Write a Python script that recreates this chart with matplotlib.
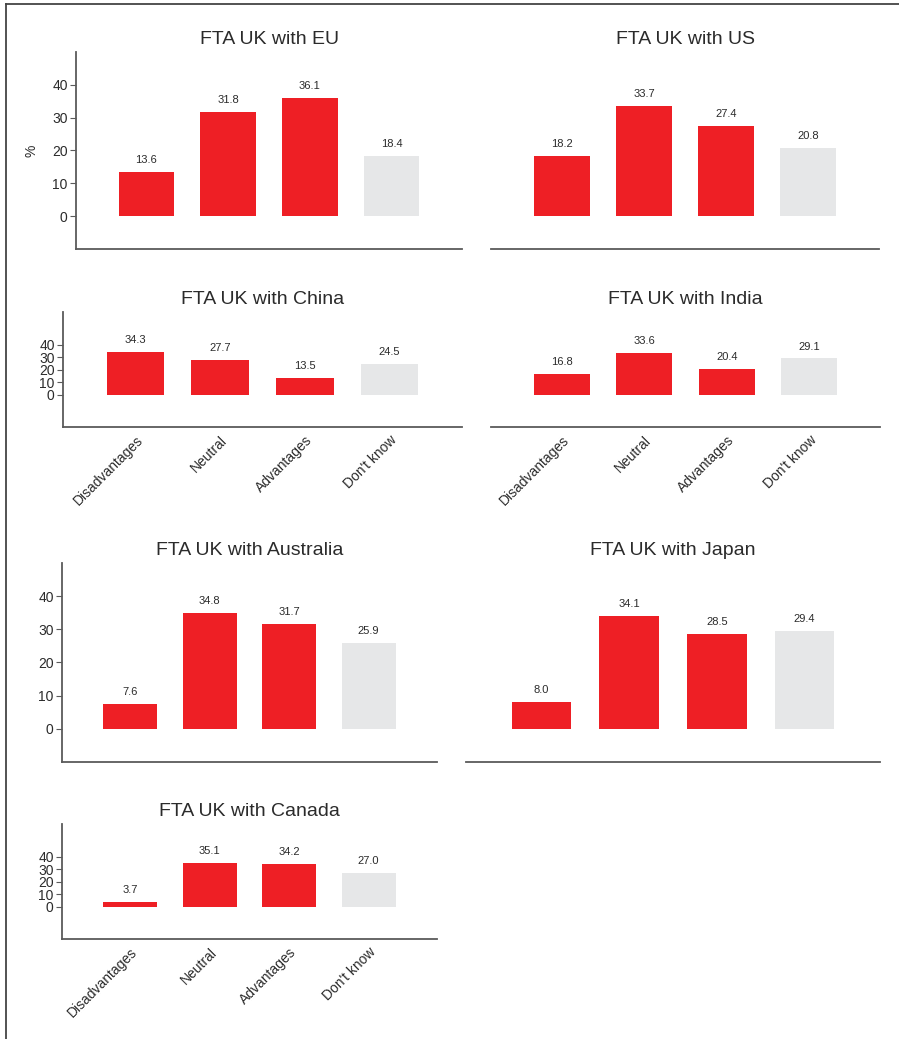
import matplotlib.pyplot as plt
from matplotlib.lines import Line2D

plt.rcParams['font.family'] = ['Liberation Sans', 'DejaVu Sans']

# Data
categories = ['Disadvantages', 'Neutral', 'Advantages', "Don't know"]
titles = ['FTA UK with EU', 'FTA UK with US', 'FTA UK with China', 'FTA UK with India',
          'FTA UK with Australia', 'FTA UK with Japan', 'FTA UK with Canada']
eu_vals = [13.6, 31.8, 36.1, 18.4]
us_vals = [18.2, 33.7, 27.4, 20.8]
china_vals = [34.3, 27.7, 13.5, 24.5]
india_vals = [16.8, 33.6, 20.4, 29.1]
australia_vals = [7.6, 34.8, 31.7, 25.9]
japan_vals = [8.0, 34.1, 28.5, 29.4]
canada_vals = [3.7, 35.1, 34.2, 27.0]
all_vals = [eu_vals, us_vals, china_vals, india_vals, australia_vals, japan_vals, canada_vals]

RED = '#ee1f25'
GREY = '#e6e7e8'
SPINE = '#5a5a5a'
TXT = '#2b2b2b'

W, H = 899, 1039
fig = plt.figure(figsize=(W / 100, H / 100), dpi=100)

# pixel boxes: left, right, top, bottom ; tall? ; left spine? ; x labels?
boxes = [
    (76, 462, 52, 249, True, True, False),
    (491, 879, 52, 249, True, False, False),
    (63, 462, 312, 427, False, True, True),
    (491, 880, 312, 427, False, False, True),
    (62, 437, 563, 762, True, True, False),
    (466, 880, 563, 762, True, False, False),
    (62, 437, 824, 939, False, True, True),
]

x = list(range(len(categories)))
colors = [RED, RED, RED, GREY]

for i, (l, r, t, b, tall, lspine, xlab) in enumerate(boxes):
    ax = fig.add_axes([l / W, 1 - b / H, (r - l) / W, (b - t) / H])
    vals = all_vals[i]
    ax.bar(x, vals, width=0.68, color=colors)
    for xi, v in zip(x, vals):
        ax.annotate(f'{v:.1f}', (xi, v), xytext=(0, 5), textcoords='offset points',
                    ha='center', va='bottom', fontsize=8, color=TXT)
    ax.set_xlim(-0.86, 3.86)
    if tall:
        ax.set_ylim(-10, 50)
    else:
        ax.set_ylim(-26, 66.5)
    ax.set_yticks([0, 10, 20, 30, 40])
    for s in ['top', 'right']:
        ax.spines[s].set_visible(False)
    ax.spines['bottom'].set_color(SPINE)
    ax.spines['bottom'].set_linewidth(1.3)
    ax.spines['left'].set_color(SPINE)
    ax.spines['left'].set_linewidth(1.3)
    if lspine:
        ax.tick_params(axis='y', length=4, color=SPINE, labelsize=10, labelcolor=TXT, pad=2)
    else:
        ax.spines['left'].set_visible(False)
        ax.tick_params(axis='y', left=False, labelleft=False)
    ax.tick_params(axis='x', bottom=False)
    if xlab:
        ax.set_xticks(x)
        ax.set_xticklabels(categories, rotation=45, ha='right', rotation_mode='anchor',
                           fontsize=10, color=TXT)
        ax.tick_params(axis='x', pad=1)
    else:
        ax.set_xticks([])
    ax.set_title(titles[i], fontsize=14, color=TXT, pad=6)
    if i == 0:
        ax.set_ylabel('%', fontsize=10, color=TXT, labelpad=10)

# outer frame lines
fig.add_artist(Line2D([6 / W, 1], [1 - 4 / H, 1 - 4 / H], color='#444444', lw=1.3))
fig.add_artist(Line2D([6 / W, 6 / W], [0, 1 - 4 / H], color='#444444', lw=1.3))

fig.savefig('out.png', dpi=100)
